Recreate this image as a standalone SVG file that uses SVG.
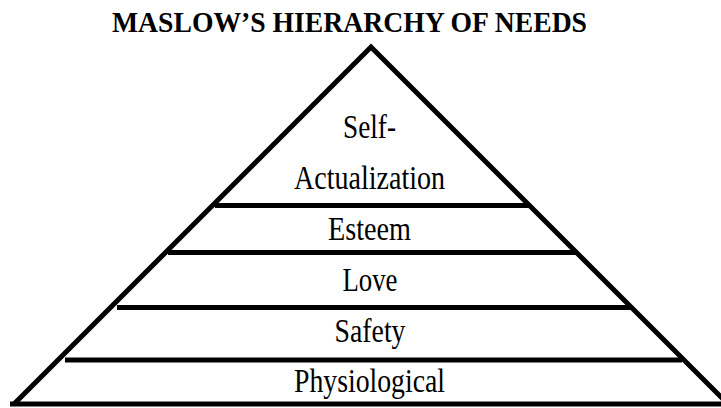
<svg xmlns="http://www.w3.org/2000/svg" width="721" height="408" viewBox="0 0 721 408">
  <style>
    .edge { stroke: #000; stroke-width: 5; fill: none; stroke-linecap: butt; }
    .lbl { font-family: "Liberation Serif", "Times New Roman", serif; font-size: 33px; fill: #000; text-anchor: middle; }
    .title { font-family: "Liberation Serif", "Times New Roman", serif; font-size: 30px; font-weight: bold; fill: #000; }
  </style>
  <rect width="721" height="408" fill="#fff"/>
  <text class="title" x="112" y="31.5" textLength="475" lengthAdjust="spacingAndGlyphs">MASLOW’S HIERARCHY OF NEEDS</text>
  <g id="connectors">
    <path class="edge" d="M14,404 L371,47 L728,404" stroke-linejoin="miter"/>
    <line class="edge" x1="10" y1="404" x2="735" y2="404" stroke-width="6"/>
    <line class="edge" x1="215" y1="205.5" x2="529" y2="205.5" stroke-width="5.5"/>
    <line class="edge" x1="168" y1="252.5" x2="576" y2="252.5" stroke-width="5.5"/>
    <line class="edge" x1="117" y1="307.5" x2="632" y2="307.5" stroke-width="5.5"/>
    <line class="edge" x1="65" y1="360" x2="682" y2="360" stroke-width="5.5"/>
  </g>
  <g id="self-actualization">
    <text class="lbl" x="369.5" y="138" textLength="53" lengthAdjust="spacingAndGlyphs">Self-</text>
    <text class="lbl" x="369.5" y="188.5" textLength="151" lengthAdjust="spacingAndGlyphs">Actualization</text>
  </g>
  <g id="esteem">
    <text class="lbl" x="369.5" y="239.5" textLength="83" lengthAdjust="spacingAndGlyphs">Esteem</text>
  </g>
  <g id="love">
    <text class="lbl" x="370" y="290.5" textLength="55" lengthAdjust="spacingAndGlyphs">Love</text>
  </g>
  <g id="safety">
    <text class="lbl" x="370" y="341.5" textLength="71" lengthAdjust="spacingAndGlyphs">Safety</text>
  </g>
  <g id="physiological">
    <text class="lbl" x="369.5" y="391.5" textLength="151" lengthAdjust="spacingAndGlyphs">Physiological</text>
  </g>
</svg>
